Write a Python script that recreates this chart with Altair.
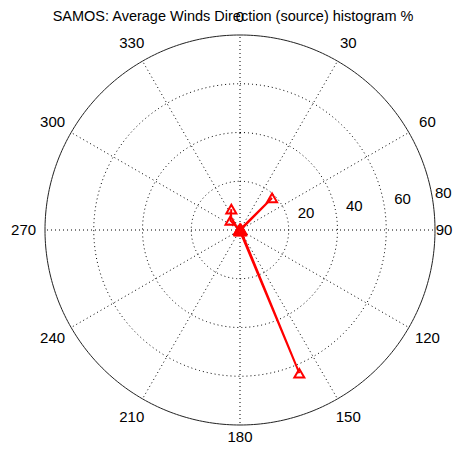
import numpy as np
import pandas as pd
import altair as alt

# ---- data ----
bin_angles = [0, 22.5, 45, 67.5, 90, 112.5, 135, 157.5, 180, 202.5, 225, 247.5, 270, 292.5, 315, 337.5]
bin_values = [0.5, 0.3, 18.6, 0.5, 0.2, 0.3, 0.6, 63.6, 0.5, 0.2, 0.1, 0.1, 0.2, 0.3, 5.5, 9.3]
ring_values = [20, 40, 60]
r_max = 80
spoke_angles = [0, 30, 60, 90, 120, 150, 180, 210, 240, 270, 300, 330]
angle_labels = ["0", "30", "60", "90", "120", "150", "180", "210", "240", "270", "300", "330"]
radial_labels = ["20", "40", "60", "80"]
radial_label_values = [20, 40, 60, 80]
title_text = "SAMOS: Average Winds Direction (source) histogram %"

# ---- frame (pixel layout) ----
W, H = 445, 437
k = 195 / r_max  # px per unit
cx, cy = 240 - 8, 230 - 8
xdom = [-cx / k, (W - cx) / k]
ydom = [-(H - cy) / k, cy / k]
xs = alt.Scale(domain=xdom, nice=False, zero=False)
ys = alt.Scale(domain=ydom, nice=False, zero=False)
X = lambda f: alt.X(f, type="quantitative", scale=xs, axis=None)
Y = lambda f: alt.Y(f, type="quantitative", scale=ys, axis=None)

def pol(r, deg):
    t = np.deg2rad(deg)
    return r * np.sin(t), r * np.cos(t)

# rings
circ = np.linspace(0, 360, 361)
ring_rows = []
for rv in ring_values + [r_max]:
    for i, a in enumerate(circ):
        x, y = pol(rv, a)
        ring_rows.append({"ring": rv, "i": i, "x": x, "y": y, "outer": rv == r_max})
rings = pd.DataFrame(ring_rows)

inner = alt.Chart(rings[~rings.outer]).mark_line(
    color="black", strokeWidth=1, strokeDash=[1, 3]
).encode(x=X("x"), y=Y("y"), detail="ring:N", order="i:Q")
outer = alt.Chart(rings[rings.outer]).mark_line(
    color="#222222", strokeWidth=1
).encode(x=X("x"), y=Y("y"), order="i:Q")

# spokes
sp_rows = []
for a in spoke_angles:
    x2, y2 = pol(r_max, a)
    sp_rows.append({"a": a, "x": 0.0, "y": 0.0, "x2": x2, "y2": y2})
spokes = alt.Chart(pd.DataFrame(sp_rows)).mark_rule(
    color="black", strokeWidth=1, strokeDash=[1, 3]
).encode(x=X("x"), y=Y("y"), x2="x2", y2="y2")

# angle labels (kept inside the drawable frame)
al = pd.DataFrame({"lab": angle_labels, "a": spoke_angles})
al["x"], al["y"] = pol(1.11 * r_max, al["a"].to_numpy())
al["x"] = al["x"].clip(upper=(W - cx - 9) / k)
al["y"] = al["y"].clip(lower=-(H - cy - 8) / k, upper=(cy - 9) / k)
ang_text = alt.Chart(al).mark_text(
    font="Liberation Sans", fontSize=15, color="black", align="center", baseline="middle"
).encode(x=X("x"), y=Y("y"), text="lab:N")

# radial labels
rl = pd.DataFrame({"lab": radial_labels, "r": radial_label_values})
rl["x"], rl["y"] = pol(rl["r"].to_numpy() + 1.0, 82)
rl["x"] = rl["x"].clip(upper=(W - cx - 25) / k)
rad_text = alt.Chart(rl).mark_text(
    font="Liberation Sans", fontSize=15, color="black", align="left",
    baseline="alphabetic", dx=7, dy=-5
).encode(x=X("x"), y=Y("y"), text="lab:N")

# data line
d = pd.DataFrame({"ang": bin_angles, "val": bin_values})
d["i"] = range(len(d))
d["x"], d["y"] = pol(d["val"].to_numpy(), d["ang"].to_numpy())
line = alt.Chart(d).mark_line(color="#ff0000", strokeWidth=2).encode(
    x=X("x"), y=Y("y"), order="i:Q"
)
pts = alt.Chart(d).mark_point(
    shape="triangle-up", filled=False, color="#ff0000", strokeWidth=2, size=100, opacity=1
).encode(x=X("x"), y=Y("y"))

# title
tt = pd.DataFrame({"t": [title_text], "x": [-7.0 / k], "y": [(cy - 12.5) / k]})
title = alt.Chart(tt).mark_text(
    font="Liberation Sans", fontSize=14.5, color="black", align="center", baseline="alphabetic"
).encode(x=X("x"), y=Y("y"), text="t:N")

chart = alt.layer(inner, spokes, outer, ang_text, rad_text, line, pts, title).properties(
    width=W, height=H, padding=0, autosize=alt.AutoSizeParams(type="none"),
    background="white"
).configure_view(stroke=None)

chart.save("out.html", embed_options={"renderer": "svg", "actions": False})
